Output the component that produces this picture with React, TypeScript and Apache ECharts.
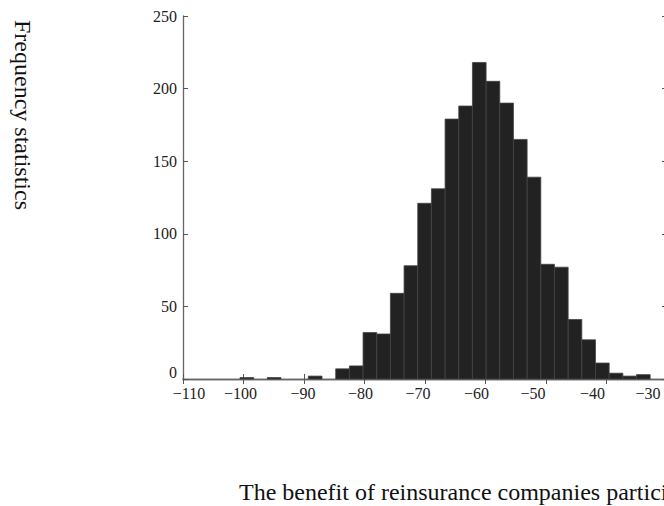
import React, { useEffect, useRef } from "react";
import * as echarts from "echarts";

// Histogram data
const binStart = -100.58;
const binWidth = 2.26;
const counts = [1, 0, 1, 0, 0, 2, 0, 7, 9, 32, 31, 59, 78, 121, 131, 179, 188, 218, 205, 190, 165, 139, 79, 77, 41, 27, 11, 4, 2, 3];

const xTicks = [-110, -100, -90, -80, -70, -60, -50, -40, -30];
const yTicks = [0, 50, 100, 150, 200, 250];

const yTitle = "Frequency statistics";
const xTitle = "The benefit of reinsurance companies participating";

// label nudges (px) to follow the reference's label placement
const xLabelShift = [6, -3, -1, -4, -7, -9, -13, -14, -19];

const SERIF = '"Liberation Serif", "Times New Roman", serif';

export default function App() {
  const ref = useRef<HTMLDivElement>(null);
  useEffect(() => {
    if (!ref.current) return;
    const chart = echarts.init(ref.current, null, { renderer: "svg" });
    const data = counts
      .map((c, i) => [binStart + i * binWidth, binStart + (i + 1) * binWidth, c])
      .filter((d) => d[2] > 0);
    const axisLine = { show: true, lineStyle: { color: "#666", width: 1.3 } };
    const axisTick = { show: true, inside: true, length: 5, lineStyle: { color: "#555", width: 1 } };
    const rich: Record<string, any> = {};
    xLabelShift.forEach((s, i) => {
      rich["t" + i] = {
        color: "#222",
        fontFamily: SERIF,
        fontSize: 16,
        padding: s >= 0 ? [0, 0, 0, 2 * s] : [0, -2 * s, 0, 0],
      };
    });
    const fmt = (v: number) => {
      const i = xTicks.indexOf(v);
      const t = String(v).replace("-", "\u2212");
      return i >= 0 ? `{t${i}|${t}}` : t;
    };
    chart.setOption({
      animation: false,
      backgroundColor: "#fff",
      grid: {
        left: 183,
        top: 16,
        width: 484,
        height: 363,
        containLabel: false,
        outerBoundsMode: "none",
      },
      xAxis: [
        {
          type: "value",
          min: xTicks[0],
          max: xTicks[xTicks.length - 1],
          interval: 10,
          position: "bottom",
          axisLine,
          axisTick,
          splitLine: { show: false },
          axisLabel: { formatter: fmt, rich, color: "#222", fontFamily: SERIF, fontSize: 16, margin: 6 },
        },
        {
          type: "value",
          min: xTicks[0],
          max: xTicks[xTicks.length - 1],
          interval: 10,
          position: "top",
          axisLine,
          axisTick,
          splitLine: { show: false },
          axisLabel: { show: false },
        },
      ],
      yAxis: [
        {
          type: "value",
          min: yTicks[0],
          max: yTicks[yTicks.length - 1],
          interval: 50,
          position: "left",
          axisLine,
          axisTick,
          splitLine: { show: false },
          axisLabel: {
            color: "#222",
            fontFamily: SERIF,
            fontSize: 16,
            margin: 6,
            formatter: (v: number) => (v === 0 ? "{z|0}" : String(v)),
            rich: {
              z: { color: "#222", fontFamily: SERIF, fontSize: 16, padding: [0, 0, 14, 0] },
            },
          },
        },
        {
          type: "value",
          min: yTicks[0],
          max: yTicks[yTicks.length - 1],
          interval: 50,
          position: "right",
          axisLine,
          axisTick,
          splitLine: { show: false },
          axisLabel: { show: false },
        },
      ],
      series: [
        {
          type: "custom",
          xAxisIndex: 0,
          yAxisIndex: 0,
          encode: { x: [0, 1], y: 2 },
          data,
          renderItem: (params: any, api: any) => {
            const p0 = api.coord([api.value(0), api.value(2)]);
            const p1 = api.coord([api.value(1), 0]);
            return {
              type: "rect",
              shape: { x: p0[0], y: p0[1], width: p1[0] - p0[0], height: p1[1] - p0[1] },
              style: { fill: "#222222", stroke: "#444444", lineWidth: 0.8 },
            };
          },
        },
      ],
      graphic: [
        {
          type: "text",
          x: 23,
          y: 115,
          rotation: -Math.PI / 2,
          style: {
            text: yTitle,
            fontFamily: SERIF,
            fontSize: 24,
            fill: "#111",
            align: "center",
            verticalAlign: "middle",
          },
        },
        {
          type: "text",
          x: 239,
          y: 492,
          style: {
            text: xTitle,
            fontFamily: SERIF,
            fontSize: 24,
            fill: "#111",
            align: "left",
            verticalAlign: "middle",
          },
        },
      ],
    });
    return () => chart.dispose();
  }, []);
  return (
    <div
      ref={ref}
      style={{ position: "fixed", left: 0, top: 0, width: 664, height: 506, background: "#fff" }}
    />
  );
}
